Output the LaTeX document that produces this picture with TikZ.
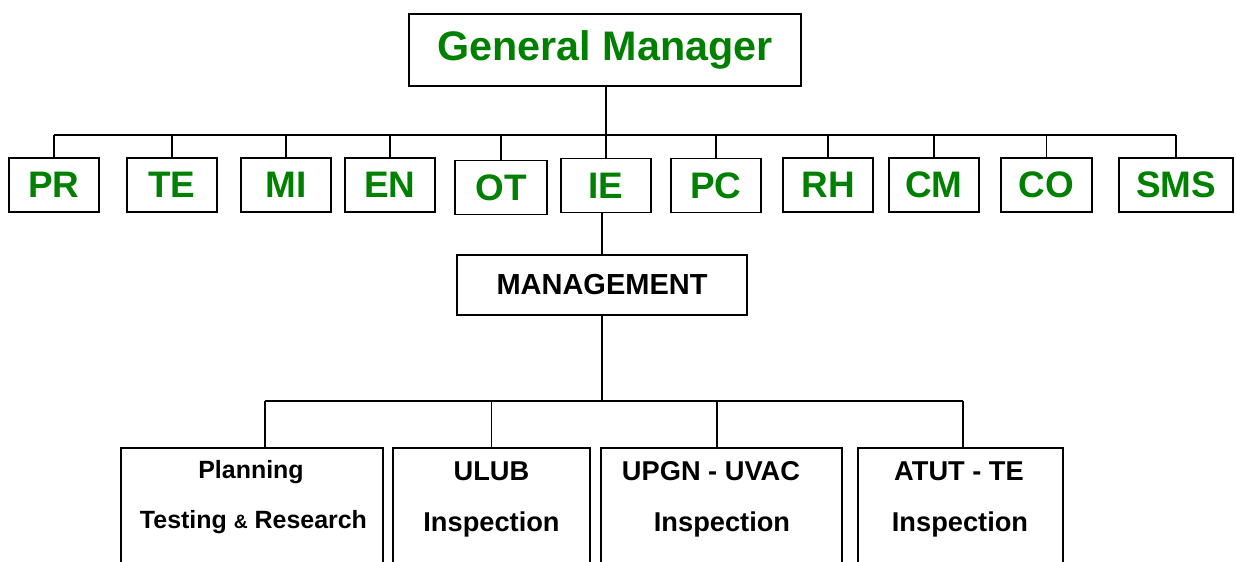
\documentclass[tikz,border=0pt]{standalone}
\usepackage{fontspec}
\setmainfont{Liberation Sans}
\definecolor{gmgreen}{RGB}{0,128,0}
\tikzset{
  chart line/.style={line width=1.1pt},
  head box/.style={draw,line width=1.1pt,inner sep=0pt,minimum width=7.84cm,minimum height=1.44cm,
    text=gmgreen,font=\fontsize{23.5}{28}\selectfont\bfseries},
  unit box/.style={draw,line width=1.1pt,inner sep=0pt,minimum height=1.08cm,
    text=gmgreen,font=\fontsize{21}{25}\selectfont\bfseries},
  mgmt box/.style={draw,line width=1.1pt,inner sep=0pt,minimum width=5.8cm,minimum height=1.2cm,
    font=\fontsize{16.5}{19}\selectfont\bfseries},
  dept box/.style={draw,line width=1.1pt,inner sep=0pt,minimum height=4cm,anchor=north},
  dept text/.style={anchor=base,inner sep=0pt,font=\fontsize{15.5}{18}\selectfont\bfseries},
  plan text/.style={anchor=base,inner sep=0pt,font=\fontsize{14.2}{16}\selectfont\bfseries}
}
\begin{document}
\begin{tikzpicture}[x=0.02cm,y=-0.02cm]
	\useasboundingbox (0,0) rectangle (1236,561);
	\clip (0,0) rectangle (1236,561);
	
	% draw general manager
	\node[head box] (GM) at (605,50) {General Manager};
	
	% draw first row of units
	\foreach \n/\x/\y/\w in {PR/54/185/90,TE/172/185/90,MI/286/185/90,EN/390/185/90,
		OT/501/187.5/92,IE/606/185.5/90,PC/716/185.5/90,RH/828/185/90,
		CM/934/185/90,CO/1046.5/185/91,SMS/1176/185/114}
	{
		\node[unit box,minimum width=\w*0.02cm] (\n) at (\x,\y) {\n};
	}
	
	% draw bus above the units
	\coordinate (bus1) at (0,135);
	\draw[chart line] (PR.north |- bus1) -- (SMS.north |- bus1);
	\draw[chart line] (GM.south -| IE.north) -- (IE.north |- bus1);
	\foreach \n in {PR,TE,MI,EN,OT,IE,PC,RH,CM,CO,SMS}
	{
		\draw[chart line] (\n.north) -- (\n.north |- bus1);
	}
	
	% draw management below IE
	\node[mgmt box] (MG) at (602,285) {MANAGEMENT};
	\draw[chart line] (MG.north |- IE.south) -- (MG.north);
	
	% draw lower boxes
	\node[dept box,minimum width=262*0.02cm] (P1) at (252,447) {};
	\node[dept box,minimum width=197*0.02cm] (P2) at (491.5,447) {};
	\node[dept box,minimum width=241*0.02cm] (P3) at (721.5,447) {};
	\node[dept box,minimum width=205*0.02cm] (P4) at (960.5,447) {};
	
	% draw bus above the lower boxes
	\coordinate (bus2) at (0,401);
	\draw[chart line] (MG.south) -- (MG.south |- bus2);
	\draw[chart line] ([xshift=0.26cm]P1.north |- bus2) -- ([xshift=0.05cm]P4.north |- bus2);
	\draw[chart line] ([xshift=0.26cm]P1.north) -- ([xshift=0.26cm]P1.north |- bus2);
	\draw[chart line] (P2.north) -- (P2.north |- bus2);
	\draw[chart line] ([xshift=-0.09cm]P3.north) -- ([xshift=-0.09cm]P3.north |- bus2);
	\draw[chart line] ([xshift=0.05cm]P4.north) -- ([xshift=0.05cm]P4.north |- bus2);
	
	% texts of lower boxes
	\node[plan text] (P1a) at (251,478) {Planning};
	\node[plan text] (P1b) at (253.5,528) {Testing {\fontsize{11}{12}\selectfont\&} Research};
	\node[dept text] (P2a) at (491.5,480) {ULUB};
	\node[dept text] (P2b) at (491.5,531) {Inspection};
	\node[dept text] (P3a) at (711,480) {UPGN - UVAC};
	\node[dept text] (P3b) at (722,531) {Inspection};
	\node[dept text] (P4a) at (959,480) {ATUT - TE};
	\node[dept text] (P4b) at (960,531) {Inspection};
\end{tikzpicture}
\end{document}
